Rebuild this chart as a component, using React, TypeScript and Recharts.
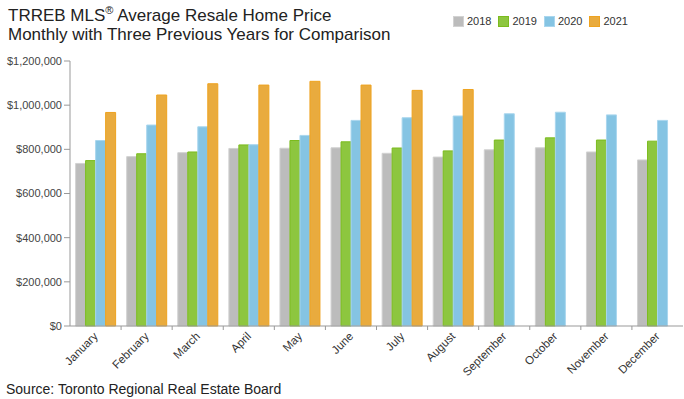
import { BarChart, Bar, XAxis, YAxis, Legend } from 'recharts';

const months = [
  'January', 'February', 'March', 'April', 'May', 'June',
  'July', 'August', 'September', 'October', 'November', 'December',
];

// average resale price by month
const price2018 = [736000, 767000, 785000, 804000, 805000, 807000, 782000, 765000, 798000, 807000, 788000, 752000];
const price2019 = [749000, 780000, 788000, 820000, 840000, 834000, 806000, 793000, 842000, 852000, 842000, 837000];
const price2020 = [840000, 910000, 902000, 821000, 863000, 931000, 943000, 951000, 961000, 968000, 956000, 931000];
const price2021 = [967000, 1046000, 1097000, 1091000, 1108000, 1091000, 1067000, 1071000, null, null, null, null];

const yTicks = [0, 200000, 400000, 600000, 800000, 1000000, 1200000];

const SERIES = [
  { key: 'y2018', name: '2018', fill: '#bcbcbc', stroke: '#d2d2d2' },
  { key: 'y2019', name: '2019', fill: '#8dc63f', stroke: '#7bbb1e' },
  { key: 'y2020', name: '2020', fill: '#85c4e3', stroke: '#a9d6ee' },
  { key: 'y2021', name: '2021', fill: '#e9ab3e', stroke: '#eea320' },
];

const FONT = '"Liberation Sans", Arial, Helvetica, sans-serif';

const data = months.map((month, i) => ({
  month,
  y2018: price2018[i],
  y2019: price2019[i],
  y2020: price2020[i],
  y2021: price2021[i],
}));

const formatPrice = (v: number) => '$' + v.toLocaleString('en-US');

function MonthTick({ x, y, payload, index }: any) {
  const half = payload.offset ?? 0;
  return (
    <g>
      {index < months.length - 1 && (
        <line x1={x + half} x2={x + half} y1={y} y2={y + 4} stroke="#999" />
      )}
      <text
        x={x + 3}
        y={y + 11}
        transform={`rotate(-45, ${x + 3}, ${y + 11})`}
        textAnchor="end"
        fontSize={11.5}
        fontFamily={FONT}
        fill="#333"
      >
        {payload.value}
      </text>
    </g>
  );
}

function renderLegend() {
  return (
    <div style={{ display: 'flex', height: 12, lineHeight: '12px', fontFamily: FONT, fontSize: 11, color: '#333' }}>
      {SERIES.map((s) => (
        <div key={s.key} style={{ display: 'flex', alignItems: 'center', marginRight: 7 }}>
          <span
            style={{
              display: 'inline-block',
              width: 9,
              height: 9,
              background: s.fill,
              border: `1px solid ${s.stroke}`,
              marginRight: 3,
            }}
          />
          <span>{s.name}</span>
        </div>
      ))}
    </div>
  );
}

export default function App() {
  return (
    <div style={{ position: 'absolute', left: 0, top: 0, width: 684, height: 399, background: '#fff' }}>
      <BarChart
        width={684}
        height={399}
        data={data}
        margin={{ top: 49, right: 1, bottom: 0, left: 0 }}
        barCategoryGap="11%"
        barGap={0}
      >
        <XAxis
          dataKey="month"
          interval={0}
          height={73}
          stroke="#999"
          tickLine={false}
          tickSize={0}
          tickMargin={0}
          tick={<MonthTick />}
        />
        <YAxis
          width={70}
          domain={[0, 1200000]}
          ticks={yTicks}
          tickFormatter={formatPrice}
          stroke="#999"
          tickSize={6}
          tickMargin={2}
          tick={{ fontSize: 11, fontFamily: FONT, fill: '#444' }}
        />
        <Legend
          verticalAlign="top"
          align="right"
          content={renderLegend}
          wrapperStyle={{ top: 15, left: 453, width: 200, height: 12 }}
        />
        {SERIES.map((s) => (
          <Bar
            key={s.key}
            dataKey={s.key}
            name={s.name}
            fill={s.fill}
            stroke={s.stroke}
            strokeWidth={1}
            isAnimationActive={false}
          />
        ))}
      </BarChart>
      <svg
        width={684}
        height={399}
        style={{ position: 'absolute', left: 0, top: 0, pointerEvents: 'none' }}
      >
        <text x={8} y={21} fontSize={17} fontFamily={FONT} fill="#222">
          TRREB MLS
          <tspan fontSize={11} dy={-7}>®</tspan>
          <tspan dy={7}> Average Resale Home Price</tspan>
        </text>
        <text x={8} y={40} fontSize={17} fontFamily={FONT} fill="#222">
          Monthly with Three Previous Years for Comparison
        </text>
        <text x={6} y={394} fontSize={14} fontFamily={FONT} fill="#222">
          Source: Toronto Regional Real Estate Board
        </text>
      </svg>
    </div>
  );
}
